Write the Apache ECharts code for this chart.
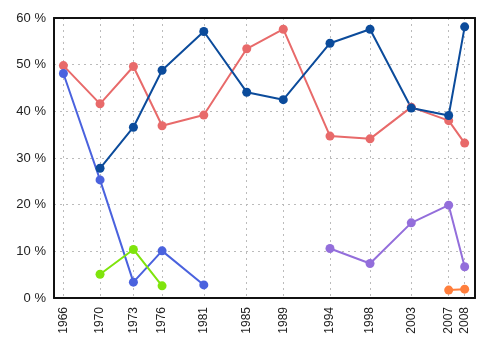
<!DOCTYPE html>
<html>
<head>
<meta charset="utf-8">
<script src="https://cdn.jsdelivr.net/npm/echarts@6/dist/echarts.min.js"></script>
<style>html,body{margin:0;padding:0;background:#fff}#c{width:500px;height:350px}</style>
</head>
<body>
<div id="c"></div>
<script>
// Election dates (decimal years) and their tick labels
const electionDates = [1966.2, 1970.1, 1973.65, 1976.7, 1981.14, 1985.71, 1989.6, 1994.57, 1998.83, 2003.22, 2007.2, 2008.9];
const tickLabels = ['1966', '1970', '1973', '1976', '1981', '1985', '1989', '1994', '1998', '2003', '2007', '2008'];
const yTicks = [0, 10, 20, 30, 40, 50, 60];

// Series values (%), aligned with electionDates; null = no result
const redValues      = [49.8, 41.6, 49.6, 36.9, 39.2, 53.4, 57.6, 34.7, 34.1, 40.9, 38.0, 33.2];
const darkBlueValues = [null, 27.8, 36.6, 48.8, 57.1, 44.1, 42.5, 54.6, 57.6, 40.7, 39.1, 58.1];
const blueValues     = [48.1, 25.3, 3.4, 10.1, 2.8, null, null, null, null, null, null, null];
const greenValues    = [null, 5.1, 10.4, 2.6, null, null, null, null, null, null, null, null];
const purpleValues   = [null, null, null, null, null, null, null, 10.6, 7.4, 16.1, 19.9, 6.7];
const orangeValues   = [null, null, null, null, null, null, null, null, null, null, 1.7, 1.9];

function pairs(vals) {
  return electionDates.map((d, i) => [d, vals[i]]);
}
function mk(vals, color) {
  return {
    type: 'line',
    data: pairs(vals),
    symbol: 'circle',
    symbolSize: 9,
    connectNulls: false,
    itemStyle: { color: color },
    lineStyle: { color: color, width: 2 },
    emphasis: { disabled: true },
    animation: false,
    z: 3
  };
}

const font = 'Liberation Sans, Arial, sans-serif';
const gridLine = { show: true, lineStyle: { color: '#bbb', type: [2, 4], width: 1 } };
const frameLine = { show: true, onZero: false, lineStyle: { color: '#111', width: 2 } };

const chart = echarts.init(document.getElementById('c'), null, { renderer: 'canvas' });
chart.setOption({
  animation: false,
  grid: { left: 54, right: 25, top: 18, bottom: 52, containLabel: false },
  xAxis: [{
    type: 'value',
    min: 1965.2,
    max: 2010.0,
    axisLine: frameLine,
    axisTick: { show: false, customValues: electionDates },
    axisLabel: {
      customValues: electionDates,
      rotate: 90,
      margin: 9,
      fontFamily: font,
      fontSize: 12,
      color: '#222',
      formatter: function (v) {
        const i = electionDates.findIndex(d => Math.abs(d - v) < 1e-6);
        return i >= 0 ? tickLabels[i] : '';
      }
    },
    splitLine: gridLine,
    z: 1
  }, {
    type: 'value',
    position: 'top',
    min: 1965.2,
    max: 2010.0,
    axisLine: frameLine,
    axisTick: { show: false },
    axisLabel: { show: false },
    splitLine: { show: false },
    z: 2
  }],
  yAxis: [{
    type: 'value',
    min: 0,
    max: 60,
    interval: 10,
    axisLine: frameLine,
    axisTick: { show: false },
    axisLabel: {
      margin: 8,
      fontFamily: font,
      fontSize: 13,
      color: '#222',
      formatter: function (v) { return yTicks.indexOf(v) >= 0 ? v + ' %' : ''; }
    },
    splitLine: gridLine,
    z: 1
  }, {
    type: 'value',
    position: 'right',
    min: 0,
    max: 60,
    interval: 10,
    axisLine: frameLine,
    axisTick: { show: false },
    axisLabel: { show: false },
    splitLine: { show: false },
    z: 2
  }],
  series: [
    mk(redValues, '#e86a6a'),
    mk(darkBlueValues, '#0b4b9b'),
    mk(blueValues, '#4a62de'),
    mk(greenValues, '#7fe40c'),
    mk(purpleValues, '#936edb'),
    mk(orangeValues, '#ff7e3c')
  ]
});
</script>
</body>
</html>
